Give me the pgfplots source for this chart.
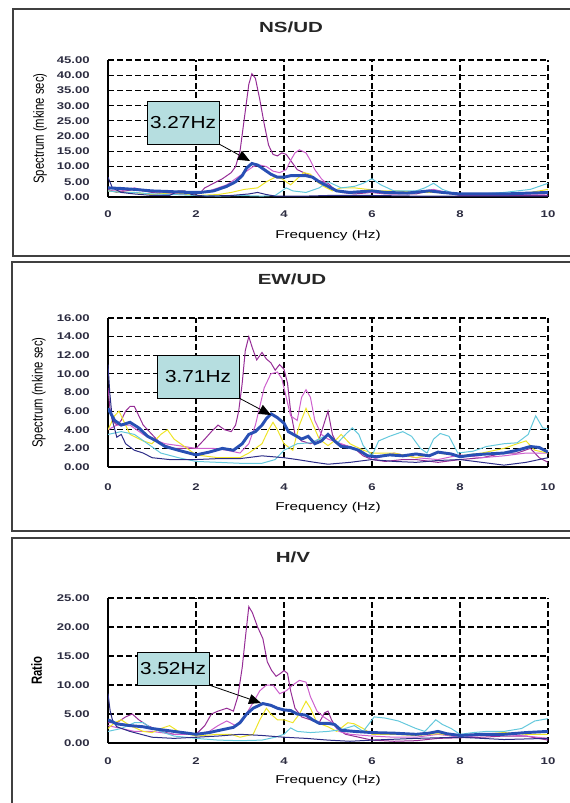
\documentclass[border=0pt]{standalone}
\usepackage{fontspec}
\setmainfont{Liberation Sans}
\usepackage{graphicx}
\usepackage{pgfplots}
\pgfplotsset{compat=1.18}
\usetikzlibrary{arrows.meta}
\newcommand\sx[1]{\scalebox{1.35}[1]{#1}}
\definecolor{cPurple}{RGB}{150,45,150}
\definecolor{cMagenta}{RGB}{205,95,205}
\definecolor{cYellow}{RGB}{238,228,40}
\definecolor{cCyan}{RGB}{100,200,220}
\definecolor{cNavy}{RGB}{45,45,135}
\definecolor{cBlue}{RGB}{40,80,180}
\definecolor{cBox}{RGB}{182,222,224}
\definecolor{cTick}{RGB}{45,45,65}
\pgfplotsset{
  panel/.style={
    scale only axis, width=330pt, xmin=0, xmax=10, ymin=0,
    axis x line=bottom, axis y line=left,
    axis line style={-, line width=1.1pt, black},
    xtick={0,2,4,6,8,10},
    xticklabels={\sx{0},\sx{2},\sx{4},\sx{6},\sx{8},\sx{10}},
    major tick length=0pt,
    grid=major,
    major grid style={black, line width=0.9pt, dash pattern=on 4.5pt off 2.25pt},
    tick label style={font=\bfseries\fontsize{7.3}{8}\selectfont, text=cTick, inner sep=0pt},
    yticklabel style={anchor=east, xshift=-13.5pt},
    label style={font=\fontsize{8.5}{10}\selectfont},
    xlabel={\sx{Frequency (Hz)}},
    ylabel style={anchor=center, rotate=0},
    every axis plot/.append style={line width=0.75pt, mark=none},
  },
  thick blue/.style={cBlue, line width=2.2pt},
}
\begin{document}
\begin{tikzpicture}
\begin{scope}[x=0.75pt,y=-0.75pt]
\useasboundingbox (0,0) rectangle (570,803);
\end{scope}

% ---------- Panel 1 : NS/UD ----------
\begin{axis}[panel, at={(81pt,-147.75pt)}, anchor=south west, height=102.75pt,
  ymax=45, ytick={0,5,...,45},
  yticklabels={\sx{0.00},\sx{5.00},\sx{10.00},\sx{15.00},\sx{20.00},\sx{25.00},\sx{30.00},\sx{35.00},\sx{40.00},\sx{45.00}},
  xticklabel style={anchor=center, yshift=-12.75pt},
  xlabel style={at={(axis description cs:0.5,-0.2847)}, anchor=center},
  ylabel={\scalebox{1}[1.3]{Spectrum (mkine sec)}},
  ylabel style={at={(axis description cs:-0.1545,0.5)}, rotate=0},
]
\addplot[cPurple] coordinates {(0,2.5)(0.2,1.5)(0.4,2)(0.6,2.5)(0.8,2)(1.0,1.5)(1.3,1)(1.6,1)(1.9,0.8)(2.1,1.5)(2.2,3)(2.4,4.5)(2.6,6)(2.8,8)(2.9,10)(3.0,15)(3.1,26)(3.2,37)(3.27,40.5)(3.35,39)(3.45,32)(3.55,24)(3.65,17)(3.75,14)(3.85,13.5)(3.95,14.5)(4.05,14)(4.15,12)(4.3,9)(4.45,8)(4.6,7)(4.75,5.5)(4.9,5)(5.0,4.5)(5.15,2.5)(5.3,1.5)(5.6,1)(6.0,1.5)(6.3,1)(7.0,1)(7.3,2)(7.6,1.5)(8.0,0.5)(9.0,0.5)(10,0.5)};
\addplot[cMagenta] coordinates {(0,2)(0.3,2)(0.6,3)(0.9,2)(1.2,1.5)(1.6,1)(2.0,1)(2.3,2)(2.5,3)(2.7,4)(2.9,6)(3.1,8)(3.3,10)(3.45,10.5)(3.6,10)(3.75,8.5)(3.9,8)(4.05,9)(4.15,12)(4.25,14.5)(4.35,15.5)(4.5,14.5)(4.6,12)(4.7,9)(4.85,6)(5.0,4)(5.2,2)(5.5,1.5)(6.0,1.5)(6.5,1)(7.0,1.5)(7.4,2.5)(7.7,1.5)(8.0,0.8)(9,0.8)(10,1)};
\addplot[cYellow] coordinates {(0,2)(0.3,1.5)(0.6,1.5)(1.0,0.8)(1.5,1.5)(2.0,0.5)(2.5,0.8)(2.8,1.5)(3.1,2.5)(3.4,3)(3.6,5)(3.8,6.5)(3.95,6)(4.05,5)(4.15,4)(4.3,6)(4.45,8)(4.6,7.5)(4.75,5)(4.9,3.5)(5.1,2)(5.3,3)(5.6,3)(5.9,2.5)(6.2,2)(6.6,2)(7.0,1.5)(7.5,1.5)(8.0,1)(9.0,1)(9.6,1.5)(10,2.5)};
\addplot[cCyan] coordinates {(0,2)(0.3,1.5)(0.6,1.5)(1.0,1)(1.5,0.8)(2.0,0.5)(2.5,0.3)(3.0,0.5)(3.5,0.3)(3.8,0.5)(3.9,1.5)(4.05,3)(4.2,2)(4.5,1.5)(4.8,3)(5.0,5)(5.3,3)(5.6,3.5)(5.8,4.5)(6.0,6)(6.2,4)(6.5,2)(7.0,2)(7.2,3)(7.4,4.5)(7.6,2.5)(7.9,1)(8.5,1)(9.0,1.5)(9.6,2.5)(10,4.5)};
\addplot[cNavy] coordinates {(0,6.5)(0.1,3)(0.3,1.5)(0.6,1)(1.0,0.5)(1.4,0.5)(1.6,2)(1.75,2)(1.9,0.8)(2.2,0.3)(2.8,0.5)(3.2,1)(3.4,1.5)(3.6,0.8)(3.8,0.3)(4.5,0.3)(5.0,0.5)(6.0,0.5)(7,0.3)(8,0.3)(10,0.3)};
\addplot[thick blue] coordinates {(0,3)(0.3,2.8)(0.6,2.5)(1.0,2)(1.4,1.8)(1.8,1.5)(2.1,1.5)(2.4,2)(2.7,3.5)(2.9,5)(3.05,7)(3.15,9.5)(3.27,11)(3.4,10.5)(3.55,9)(3.7,7.5)(3.85,6.5)(4.0,6.5)(4.15,7)(4.3,7)(4.5,7)(4.65,6.5)(4.8,5)(5.0,3.5)(5.2,2)(5.5,1.5)(5.8,1.8)(6.0,2)(6.3,1.5)(6.8,1.3)(7.3,2)(7.6,1.5)(8.0,1)(9.0,1)(10,1.5)};
\end{axis}

% ---------- Panel 2 : EW/UD ----------
\begin{axis}[panel, at={(81pt,-350.25pt)}, anchor=south west, height=111.75pt,
  ymax=16, ytick={0,2,...,16},
  yticklabels={\sx{0.00},\sx{2.00},\sx{4.00},\sx{6.00},\sx{8.00},\sx{10.00},\sx{12.00},\sx{14.00},\sx{16.00}},
  xticklabel style={anchor=center, yshift=-15pt},
  xlabel style={at={(axis description cs:0.5,-0.275)}, anchor=center},
  ylabel={\scalebox{1}[1.3]{Spectrum (mkine sec)}},
  ylabel style={at={(axis description cs:-0.157,0.5)}, rotate=0},
]
\addplot[cPurple] coordinates {(0,8.5)(0.05,6)(0.1,5)(0.2,4.5)(0.3,5)(0.4,6)(0.5,6.5)(0.6,6.5)(0.7,5.5)(0.8,4.5)(1.0,3.5)(1.2,2.5)(1.5,2)(1.8,2)(2.0,2)(2.2,3)(2.35,3.8)(2.5,4.5)(2.65,4)(2.8,3.8)(2.9,4.5)(2.97,6)(3.05,9)(3.12,12.5)(3.2,14)(3.28,12.8)(3.38,11.5)(3.5,12.3)(3.6,11.6)(3.7,11.2)(3.8,10.4)(3.9,11)(4.0,10.5)(4.08,9)(4.15,6)(4.25,3.5)(4.4,2.8)(4.6,2.5)(4.8,3)(4.9,4.5)(5.0,6)(5.1,3.5)(5.2,2.5)(5.4,2.3)(5.6,2)(5.8,1.2)(6.0,0.8)(6.3,0.6)(6.7,0.8)(7.0,0.8)(7.5,0.5)(8.0,0.8)(8.5,1)(9.0,1.5)(9.3,1.5)(9.6,2)(9.8,1)(10,0.5)};
\addplot[cMagenta] coordinates {(0,4)(0.2,4.5)(0.5,4.5)(0.8,3.5)(1.0,3)(1.3,2.5)(1.6,2.3)(2.0,2)(2.4,2)(2.7,1.8)(3.0,1.5)(3.2,2.5)(3.35,4.5)(3.45,6.5)(3.55,8.5)(3.7,10)(3.85,10.2)(3.95,9.5)(4.05,7.5)(4.15,5.5)(4.3,5)(4.4,7.5)(4.5,8.3)(4.6,7.5)(4.7,5)(4.85,3.5)(5.0,3)(5.3,2.5)(5.6,2)(5.8,1.5)(6.0,0.8)(6.5,1.5)(7.0,1)(7.5,0.8)(8.0,1.3)(8.5,1)(9.0,1.2)(9.5,1.5)(10,1.5)};
\addplot[cYellow] coordinates {(0,4)(0.15,5.5)(0.25,6)(0.35,5)(0.5,3.5)(0.8,2.8)(1.0,2.5)(1.2,3.5)(1.35,4)(1.5,3)(1.8,2)(2.0,1.3)(2.5,1)(3.0,1)(3.2,1.5)(3.5,2.5)(3.65,4)(3.75,4.8)(3.85,4)(4.0,2.5)(4.2,1.8)(4.35,4.5)(4.5,6.3)(4.62,5)(4.8,3)(5.0,2.3)(5.2,3)(5.3,3.5)(5.5,2.5)(5.8,1.8)(6.0,1.5)(6.5,1.5)(7.0,1)(7.5,1.5)(8.0,1.2)(8.5,1.5)(9.0,2)(9.3,2.5)(9.5,2.8)(9.7,1.8)(10,1.5)};
\addplot[cCyan] coordinates {(0,3.5)(0.3,3.8)(0.6,3.5)(0.9,2.5)(1.2,1.5)(1.6,1)(2.0,0.6)(2.5,0.5)(3.0,0.4)(3.5,0.4)(3.8,0.8)(4.0,1.8)(4.3,2.5)(4.6,2.6)(4.8,3)(5.0,3.5)(5.2,2.5)(5.4,3.5)(5.55,4.2)(5.7,3.5)(5.8,2.3)(6.0,1.2)(6.15,2.8)(6.4,3.3)(6.7,3.8)(6.9,3.3)(7.1,2)(7.25,1.5)(7.4,3)(7.55,3.6)(7.75,3.3)(7.95,1.5)(8.3,1.7)(8.6,2.2)(9.0,2.5)(9.3,2.6)(9.55,3.5)(9.72,5.5)(9.88,4.2)(10,4.1)};
\addplot[cNavy] coordinates {(0,11)(0.04,8)(0.1,5)(0.2,3.2)(0.3,3.5)(0.4,2.5)(0.6,1.8)(0.8,1.5)(1.0,1)(1.4,0.8)(2.0,0.8)(2.5,0.9)(3.0,0.9)(3.5,1.2)(4.0,1)(4.3,0.8)(4.7,0.5)(5.0,0.3)(5.5,0.5)(6.0,0.8)(6.5,0.6)(7.0,0.5)(7.5,0.7)(8.0,0.8)(8.5,0.5)(9.0,0.2)(9.5,0.5)(10,1)};
\addplot[thick blue] coordinates {(0,6.3)(0.15,5)(0.3,4.5)(0.5,4.8)(0.7,4.2)(0.9,3.3)(1.1,2.8)(1.3,2.2)(1.6,1.8)(2.0,1.3)(2.3,1.6)(2.6,2)(2.85,1.8)(3.05,2.5)(3.2,3.5)(3.35,3.8)(3.5,4.5)(3.6,5.2)(3.71,5.7)(3.85,5.3)(4.0,4.7)(4.1,3.8)(4.25,3.4)(4.4,3)(4.55,3.3)(4.7,2.5)(4.85,2.8)(5.0,3.5)(5.15,2.8)(5.3,2.2)(5.5,2.1)(5.7,1.8)(5.9,1.2)(6.1,1.1)(6.4,1.3)(6.7,1.2)(7.0,1.4)(7.3,1.2)(7.5,1.6)(7.8,1.4)(8.0,1.1)(8.3,1.3)(8.6,1.4)(9.0,1.5)(9.3,1.8)(9.6,2.2)(9.8,2.1)(10,1.6)};
\end{axis}

% ---------- Panel 3 : H/V ----------
\begin{axis}[panel, at={(81pt,-557.25pt)}, anchor=south west, height=108.75pt,
  ymax=25, ytick={0,5,...,25},
  yticklabels={\sx{0.00},\sx{5.00},\sx{10.00},\sx{15.00},\sx{20.00},\sx{25.00}},
  xticklabel style={anchor=center, yshift=-13.5pt},
  xlabel style={at={(axis description cs:0.5,-0.262)}, anchor=center},
  ylabel={\bfseries\scalebox{1}[1.3]{Ratio}},
  ylabel style={at={(axis description cs:-0.162,0.5)}, rotate=0},
]
\addplot[cPurple] coordinates {(0,3.5)(0.2,3.5)(0.4,4.5)(0.55,5)(0.7,4)(0.9,3)(1.2,2)(1.5,1.5)(2.0,1.5)(2.2,3)(2.35,5)(2.5,5.5)(2.7,6)(2.85,5.5)(2.95,8)(3.05,13)(3.12,18)(3.2,23.5)(3.28,22.5)(3.4,20)(3.52,18)(3.62,14)(3.72,12.5)(3.82,11.5)(3.92,12)(4.0,12.5)(4.08,12)(4.15,9)(4.25,6)(4.4,4.5)(4.6,4)(4.8,3.5)(4.92,5.2)(5.0,5.5)(5.08,4)(5.2,2.5)(5.4,1.5)(5.7,1)(6.0,0.5)(6.5,0.3)(7.0,0.4)(7.5,0.8)(8.0,0.9)(8.5,1)(9.0,1.2)(9.5,1.2)(10,0.5)};
\addplot[cMagenta] coordinates {(0,3)(0.3,2.5)(0.6,2)(1.0,2)(1.5,1.5)(2.0,1.5)(2.3,2)(2.5,3)(2.7,3.8)(2.9,3)(3.1,4.5)(3.3,7)(3.45,9)(3.6,10)(3.75,10)(3.9,8.5)(4.05,9)(4.2,10)(4.35,10.8)(4.5,10.5)(4.6,8)(4.75,5.5)(4.9,4.5)(5.1,3.5)(5.25,2)(5.5,1.5)(6.0,1.2)(6.5,1)(7.0,1)(7.5,1.5)(8.0,1)(8.5,1.3)(9.0,1.5)(9.5,1.2)(10,0.8)};
\addplot[cYellow] coordinates {(0,2.5)(0.15,3.5)(0.3,4)(0.5,3)(0.8,2)(1.0,1.8)(1.2,2.5)(1.4,3)(1.6,2)(2.0,1.2)(2.5,1.5)(2.8,1.5)(3.0,1)(3.3,1.5)(3.45,4)(3.6,6)(3.7,5)(3.85,4)(4.0,4)(4.2,3.5)(4.35,5)(4.5,7.2)(4.6,6)(4.75,3.5)(5.0,2.8)(5.2,2)(5.45,3.5)(5.6,3.3)(5.8,2.5)(6.0,1.5)(6.5,1.5)(7.0,1.3)(7.5,1.6)(8.0,1.2)(8.5,1.5)(9.0,1.8)(9.5,1.5)(10,1.5)};
\addplot[cCyan] coordinates {(0,2)(0.3,2.5)(0.6,3.5)(0.8,3.5)(1.0,2.5)(1.5,1.2)(2.0,0.8)(2.5,0.5)(3.0,0.4)(3.5,0.5)(3.8,1)(4.0,1.5)(4.15,2.6)(4.3,2)(4.6,1.8)(5.0,2)(5.3,2.3)(5.6,3)(5.8,2)(5.95,3.5)(6.05,4.5)(6.3,4.3)(6.6,3.8)(7.0,2.5)(7.2,2)(7.45,4)(7.6,3.2)(7.8,2.5)(8.0,1.5)(8.3,1.8)(8.6,2)(9.0,2)(9.4,2.5)(9.7,3.8)(10,4.2)};
\addplot[cNavy] coordinates {(0,8.5)(0.05,5.5)(0.1,4)(0.2,2.8)(0.5,2)(1.0,1)(1.5,0.8)(2.0,1)(2.5,1.2)(3.0,1.5)(3.5,1.3)(4.0,1)(4.5,0.8)(5.0,0.5)(5.5,0.3)(6.0,0.5)(7.0,0.8)(8.0,1)(9.0,0.6)(10,0.8)};
\addplot[thick blue] coordinates {(0,4)(0.2,3.3)(0.5,3)(0.8,2.8)(1.0,2.5)(1.3,2.2)(1.6,1.9)(2.0,1.5)(2.3,1.8)(2.6,2.3)(2.85,2.7)(3.0,3.5)(3.15,5)(3.3,6)(3.52,6.8)(3.7,6.5)(3.85,6)(4.0,5.7)(4.15,5.6)(4.3,5)(4.5,4.8)(4.65,4)(4.8,3.4)(5.0,3.4)(5.15,3.2)(5.3,2.2)(5.6,2)(6.0,1.8)(6.5,1.7)(7.0,1.5)(7.3,1.7)(7.5,2)(7.7,1.6)(8.0,1.3)(8.5,1.5)(9.0,1.5)(9.5,1.8)(10,2)};
\end{axis}

% ---------- frames, titles, callouts (pixel grid) ----------
\begin{scope}[x=0.75pt,y=-0.75pt]
\clip (0,0) rectangle (570,803);
\draw[line width=1.1pt, black!75] (13,9) rectangle (590,256);
\draw[line width=1.1pt, black!75] (12,262) rectangle (590,531);
\draw[line width=1.1pt, black!75] (12,538) rectangle (590,820);
\node[font=\bfseries\fontsize{11}{12}\selectfont, text=black!85] at (291,27) {\scalebox{1.4}[1]{NS/UD}};
\node[font=\bfseries\fontsize{11}{12}\selectfont, text=black!85] at (292,279) {\scalebox{1.4}[1]{EW/UD}};
\node[font=\bfseries\fontsize{11}{12}\selectfont, text=black!85] at (293,557) {\scalebox{1.4}[1]{H/V}};
% callouts
\draw[line width=0.6pt, -{Triangle[length=9pt,width=7.5pt]}] (219,144) -- (250,161);
\draw[line width=0.6pt, fill=cBox] (147,101) rectangle (219,144);
\node[font=\fontsize{13}{14}\selectfont] at (183,122.5) {\scalebox{1.2}[1]{3.27Hz}};
\draw[line width=0.6pt, -{Triangle[length=9pt,width=7.5pt]}] (239,398) -- (271,415);
\draw[line width=0.6pt, fill=cBox] (157,355) rectangle (239,398);
\node[font=\fontsize{13}{14}\selectfont] at (198,376.5) {\scalebox{1.2}[1]{3.71Hz}};
\draw[line width=0.6pt, -{Triangle[length=9pt,width=7.5pt]}] (209,685) -- (261,703);
\draw[line width=0.6pt, fill=cBox] (137,652) rectangle (209,685);
\node[font=\fontsize{13}{14}\selectfont] at (173,668.5) {\scalebox{1.2}[1]{3.52Hz}};
\end{scope}
\end{tikzpicture}
\end{document}
